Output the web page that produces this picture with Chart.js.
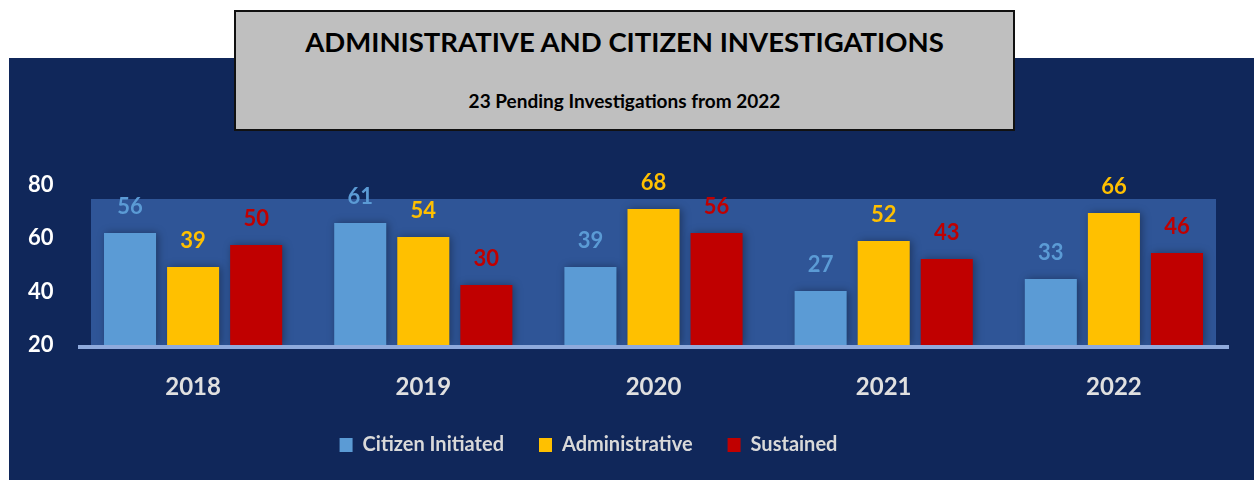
<!DOCTYPE html>
<html>
<head>
<meta charset="utf-8">
<script src="https://cdn.jsdelivr.net/npm/chart.js@4.4.1/dist/chart.umd.min.js"></script>
<style>
  html, body { margin: 0; padding: 0; background: #ffffff; }
  #wrap { position: relative; width: 1254px; height: 480px; overflow: hidden; background: #ffffff; }
  #navy { position: absolute; left: 9px; top: 58px; width: 1245px; height: 422px; background: #10275a; }
  #titlebox { position: absolute; left: 234px; top: 10px; width: 777px; height: 117px; background: #bfbfbf; border: 2px solid #111; box-sizing: content-box; font-family: Lato, "Liberation Sans", sans-serif; color: #000; text-align: center; }
  #t1 { position: absolute; left: 0; right: 0; top: 13px; font-size: 27.5px; font-weight: bold; }
  #t2 { position: absolute; left: 0; right: 0; top: 77px; font-size: 19px; font-weight: bold; }
  #c { position: absolute; left: 0; top: 0; }
</style>
</head>
<body>
<div id="wrap">
  <div id="navy"></div>
  <div id="titlebox">
    <div id="t1">ADMINISTRATIVE AND CITIZEN INVESTIGATIONS</div>
    <div id="t2">23 Pending Investigations from 2022</div>
  </div>
  <canvas id="c" width="1254" height="480"></canvas>
</div>
<script>
const categories = ["2018", "2019", "2020", "2021", "2022"];
const citizenInitiated = [56, 61, 39, 27, 33];
const administrative = [39, 54, 68, 52, 66];
const sustained = [50, 30, 56, 43, 46];
const tickLabels = [20, 40, 60, 80];

const FONT = "Lato, 'Liberation Sans', sans-serif";

const backdrop = {
  id: 'backdrop',
  beforeDatasetsDraw(chart) {
    const { ctx, chartArea: a, scales } = chart;
    const y = scales.y;
    ctx.save();
    ctx.fillStyle = '#2f5597';
    const top = y.getPixelForValue(73);
    ctx.fillRect(a.left + 13, top, a.right - a.left - 26, a.bottom - top);
    ctx.restore();
  },
  afterDatasetsDraw(chart) {
    const { ctx, chartArea: a } = chart;
    ctx.save();
    ctx.fillStyle = '#8faadc';
    ctx.fillRect(a.left, a.bottom, a.right - a.left, 4);
    ctx.restore();
  }
};

const shadow = {
  id: 'shadow',
  beforeDatasetDraw(chart) {
    const ctx = chart.ctx;
    ctx.save();
    ctx.shadowColor = 'rgba(0,0,0,0.35)';
    ctx.shadowBlur = 8;
    ctx.shadowOffsetX = 2;
    ctx.shadowOffsetY = 0;
  },
  afterDatasetDraw(chart) {
    chart.ctx.restore();
  }
};

const valueLabels = {
  id: 'valueLabels',
  afterDatasetsDraw(chart) {
    const { ctx } = chart;
    ctx.save();
    ctx.font = "bold 22px " + FONT;
    ctx.textAlign = 'center';
    ctx.textBaseline = 'middle';
    chart.data.datasets.forEach((ds, i) => {
      const meta = chart.getDatasetMeta(i);
      meta.data.forEach((bar, j) => {
        ctx.fillStyle = ds.backgroundColor;
        ctx.fillText(String(ds.data[j]), bar.x, bar.y - 26);
      });
    });
    ctx.restore();
  }
};

// shift the centred legend row slightly left, as in the reference
const legendShift = {
  id: 'legendShift',
  afterLayout(chart) {
    if (chart.legend) { chart.legend.right -= 80; }
  }
};

new Chart(document.getElementById('c'), {
  type: 'bar',
  data: {
    labels: categories,
    datasets: [
      { label: 'Citizen Initiated', data: citizenInitiated, backgroundColor: '#5b9bd5', yAxisID: 'y' },
      { label: 'Administrative', data: administrative, backgroundColor: '#ffc000', yAxisID: 'y' },
      { label: 'Sustained', data: sustained, backgroundColor: '#c00000', yAxisID: 'y' }
    ]
  },
  options: {
    responsive: false,
    animation: false,
    events: [],
    categoryPercentage: 0.822,
    barPercentage: 0.825,
    layout: { padding: { left: 28, right: 25, top: 175, bottom: 15 } },
    scales: {
      x: {
        grid: { display: false, drawTicks: false },
        border: { display: false },
        ticks: { color: '#e0e0e0', font: { family: FONT, size: 24, weight: 'bold' }, padding: 28 },
        afterFit(s) { s.height = 55; }
      },
      y: {
        display: false,
        min: 0,
        max: 85
      },
      y2: {
        position: 'left',
        min: 20,
        max: 83.75,
        afterBuildTicks(s) { s.ticks = tickLabels.map(v => ({ value: v })); },
        grid: { display: false, drawTicks: false },
        border: { display: false },
        ticks: { color: '#ffffff', crossAlign: 'far', padding: 0, font: { family: FONT, size: 22, weight: 'bold' } },
        afterFit(s) { s.width = 50; }
      }
    },
    plugins: {
      legend: {
        position: 'bottom',
        labels: {
          color: '#d9d9d9',
          font: { family: FONT, size: 20, weight: 'bold' },
          boxWidth: 13,
          boxHeight: 14,
          padding: 35
        }
      },
      tooltip: { enabled: false },
      title: { display: false }
    }
  },
  plugins: [backdrop, shadow, valueLabels, legendShift]
});
</script>
</body>
</html>
